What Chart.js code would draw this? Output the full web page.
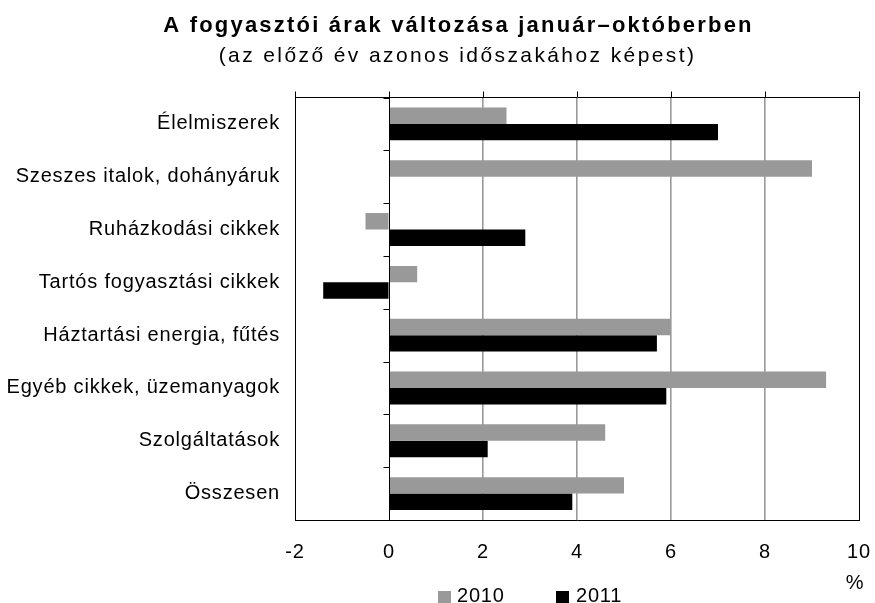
<!DOCTYPE html>
<html><head><meta charset="utf-8">
<script src="https://cdn.jsdelivr.net/npm/chart.js@4"></script>
<style>html,body{margin:0;padding:0;background:#fff}#wrap{width:875px;height:603px;position:relative}canvas{display:block}</style>
</head><body><div id="wrap"><canvas id="c" width="875" height="603"></canvas></div>
<script>
const titleText = 'A fogyasztói árak változása január–októberben';
const subtitleText = '(az előző év azonos időszakához képest)';
const categories = ['Élelmiszerek','Szeszes italok, dohányáruk','Ruházkodási cikkek','Tartós fogyasztási cikkek','Háztartási energia, fűtés','Egyéb cikkek, üzemanyagok','Szolgáltatások','Összesen'];
const seriesNames = ['2010','2011'];
const values2010 = [2.5, 9.0, -0.5, 0.6, 6.0, 9.3, 4.6, 5.0];
const values2011 = [7.0, null, 2.9, -1.4, 5.7, 5.9, 2.1, 3.9];
const xTicks = [-2, 0, 2, 4, 6, 8, 10];
const unitLabel = '%';

const FONT = '"Liberation Sans", Arial, sans-serif';
const GRAY = '#999999';
const BLACK = '#000000';

const decor = {
  id: 'decor',
  beforeDraw(chart) { chart.ctx.letterSpacing = '0.8px'; },
  afterDatasetsDraw(chart) {
    const ctx = chart.ctx, xs = chart.scales.x, ys = chart.scales.y;
    const x0 = Math.round(xs.getPixelForValue(0)) + 0.5;
    const step = ys.getPixelForValue(1) - ys.getPixelForValue(0);
    ctx.save();
    ctx.strokeStyle = BLACK; ctx.lineWidth = 1;
    ctx.beginPath();
    ctx.moveTo(x0, chart.chartArea.top); ctx.lineTo(x0, chart.chartArea.bottom);
    for (let i = 0; i <= categories.length; i++) {
      const y = Math.round(ys.getPixelForValue(0) - step / 2 + i * step) + 0.5;
      ctx.moveTo(x0 - 6, y); ctx.lineTo(x0, y);
    }
    ctx.stroke();
    ctx.restore();
  },
  afterDraw(chart) {
    const ctx = chart.ctx;
    ctx.save();
    ctx.fillStyle = BLACK;
    ctx.textAlign = 'center'; ctx.textBaseline = 'alphabetic';
    ctx.font = 'bold 22px ' + FONT; ctx.letterSpacing = '2.2px';
    ctx.fillText(titleText, 458.5, 31.5);
    ctx.font = '21px ' + FONT; ctx.letterSpacing = '2.4px';
    ctx.fillText(subtitleText, 457.5, 61.5);
    // legend
    ctx.letterSpacing = '0.8px';
    ctx.font = '20px ' + FONT; ctx.textAlign = 'left';
    const ds = chart.data.datasets;
    const boxX = [438, 556], txtX = [457, 576];
    ds.forEach((d, i) => {
      ctx.fillStyle = d.backgroundColor;
      ctx.fillRect(boxX[i], 591, 13, 12);
      ctx.fillStyle = BLACK;
      ctx.fillText(d.label, txtX[i], 601.5);
    });
    ctx.textAlign = 'center';
    ctx.fillText(unitLabel, 855, 589);
    ctx.restore();
  }
};

new Chart(document.getElementById('c'), {
  type: 'bar',
  data: {
    labels: categories,
    datasets: [
      { label: seriesNames[0], data: values2010, backgroundColor: GRAY, borderWidth: 0 },
      { label: seriesNames[1], data: values2011, backgroundColor: BLACK, borderWidth: 0 }
    ]
  },
  options: {
    indexAxis: 'y',
    responsive: false,
    animation: false,
    devicePixelRatio: 1,
    categoryPercentage: 0.623,
    barPercentage: 1,
    layout: { padding: { top: 91.5, right: 16, bottom: 19, left: 0 } },
    plugins: { legend: { display: false }, title: { display: false }, tooltip: { enabled: false } },
    scales: {
      x: {
        type: 'linear', position: 'bottom', min: -2, max: 10,
        afterBuildTicks: s => { s.ticks = xTicks.map(v => ({ value: v })); },
        afterFit: s => { s.paddingLeft = 0; s.paddingRight = 0; },
        ticks: { color: BLACK, padding: 20, font: { family: FONT, size: 20 } },
        grid: {
          drawTicks: false,
          color: c => (c.tick && (c.tick.value === -2 || c.tick.value === 10 || c.tick.value === 0)) ? BLACK : GRAY,
          lineWidth: c => (c.tick && (c.tick.value === -2 || c.tick.value === 10 || c.tick.value === 0)) ? 1 : 1.6
        },
        border: { display: true, color: BLACK, width: 1 }
      },
      x2: {
        type: 'linear', position: 'top', min: -2, max: 10,
        afterBuildTicks: s => { s.ticks = xTicks.map(v => ({ value: v })); },
        afterFit: s => { s.paddingLeft = 0; s.paddingRight = 0; },
        ticks: { display: false },
        grid: { drawOnChartArea: false, drawTicks: true, tickLength: 6, color: BLACK, lineWidth: 1 },
        border: { display: true, color: BLACK, width: 1 }
      },
      y: {
        type: 'category', position: 'left', offset: true,
        afterFit: s => { s.width = 295; },
        ticks: { color: BLACK, padding: 15, font: { family: FONT, size: 20 } },
        grid: { display: false, drawTicks: false },
        border: { display: true, color: BLACK, width: 1 }
      }
    }
  },
  plugins: [decor]
});
</script>
</body></html>
